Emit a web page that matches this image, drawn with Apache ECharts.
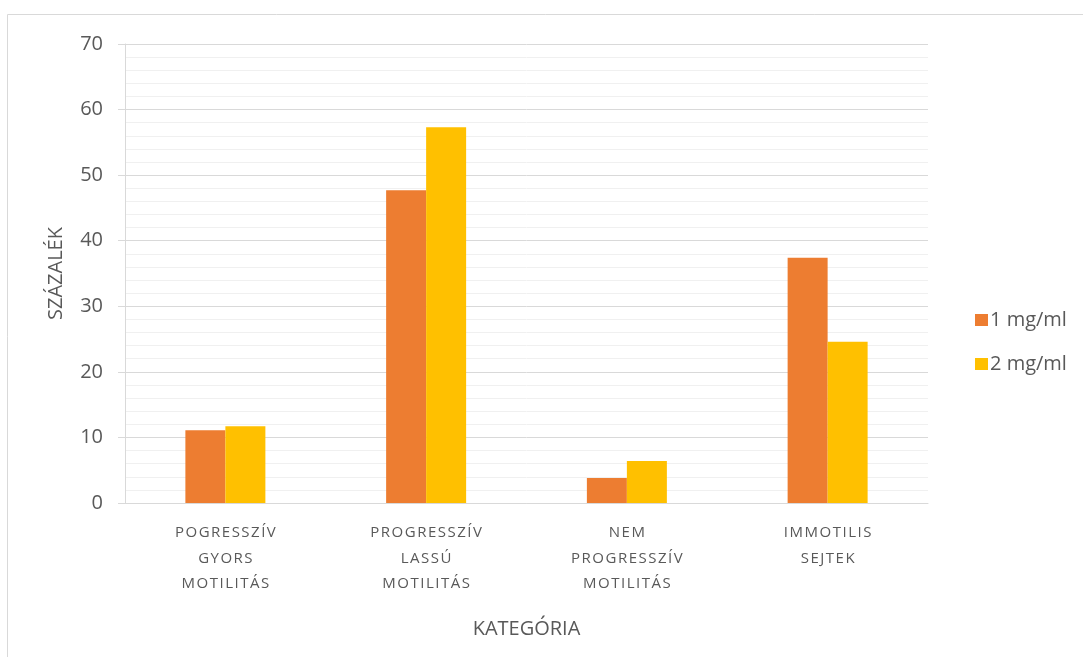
<!doctype html>
<html lang="hu">
<head>
    <meta charset="utf-8"/>
    <title>Motilitás</title>
    <script src="https://cdn.jsdelivr.net/npm/echarts@6/dist/echarts.min.js"></script>
    <style>
        html, body { margin: 0; padding: 0; background: #fff; }
        #chart { width: 1083px; height: 657px; }
    </style>
</head>
<body>
<div id="chart"></div>
<script>
    // adatok
    const categories = [
        "POGRESSZÍV\nGYORS\nMOTILITÁS",
        "PROGRESSZÍV\nLASSÚ\nMOTILITÁS",
        "NEM\nPROGRESSZÍV\nMOTILITÁS",
        "IMMOTILIS\nSEJTEK"
    ];
    const dose1 = [11.1, 47.7, 3.8, 37.4];
    const dose2 = [11.7, 57.3, 6.4, 24.6];
    const seriesNames = ["1 mg/ml", "2 mg/ml"];
    const yTicks = [0, 70, 10];

    // betűköz imitálása
    function spaced(s) {
        return s.split("\n").map(function (line) {
            return line.split("").join("\u200A");
        }).join("\n");
    }

    var chart = echarts.init(document.getElementById("chart"));
    var option = {
        animation: false,
        textStyle: { fontFamily: "Open Sans", color: "#595959" },
        graphic: [{
            type: "rect",
            shape: { x: 7.5, y: 14.5, width: 1100, height: 700 },
            style: { fill: "none", stroke: "#d9d9d9", lineWidth: 1 }
        }],
        grid: { left: 125, right: 155, top: 44, bottom: 154 },
        legend: {
            orient: "vertical",
            left: 970,
            top: 305,
            itemWidth: 13,
            itemHeight: 12,
            itemGap: 24,
            icon: "rect",
            textStyle: { fontSize: 20, color: "#595959", fontFamily: "Open Sans", padding: [0, 0, 0, -3] },
            data: seriesNames
        },
        xAxis: {
            type: "category",
            data: categories,
            name: "KATEGÓRIA",
            nameLocation: "middle",
            nameGap: 116,
            nameTextStyle: { fontSize: 20, color: "#595959" },
            axisLine: { show: true, lineStyle: { color: "#d9d9d9", width: 1 } },
            axisTick: { show: false },
            axisLabel: {
                fontSize: 15,
                color: "#595959",
                lineHeight: 25.5,
                margin: 17,
                interval: 0,
                formatter: function (v) { return spaced(v); }
            }
        },
        yAxis: {
            type: "value",
            min: yTicks[0],
            max: yTicks[1],
            interval: yTicks[2],
            name: "SZÁZALÉK",
            nameLocation: "middle",
            nameGap: 59,
            nameRotate: 90,
            nameTextStyle: { fontSize: 20, color: "#595959" },
            axisLine: { show: true, lineStyle: { color: "#d9d9d9", width: 1 } },
            axisTick: { show: true, length: 7, lineStyle: { color: "#d9d9d9" } },
            axisLabel: { fontSize: 20, color: "#595959", margin: 22 },
            splitLine: { show: true, lineStyle: { color: "#d9d9d9", width: 1 } },
            minorTick: { show: false, splitNumber: 5 },
            minorSplitLine: { show: true, lineStyle: { color: "#f0f0f0", width: 1 } }
        },
        series: [
            {
                name: seriesNames[0],
                type: "bar",
                data: dose1,
                barWidth: 40,
                barGap: "0%",
                itemStyle: { color: "#ed7d31" }
            },
            {
                name: seriesNames[1],
                type: "bar",
                data: dose2,
                barWidth: 40,
                barGap: "0%",
                itemStyle: { color: "#ffc000" }
            }
        ]
    };
    chart.setOption(option);
</script>
</body>
</html>
